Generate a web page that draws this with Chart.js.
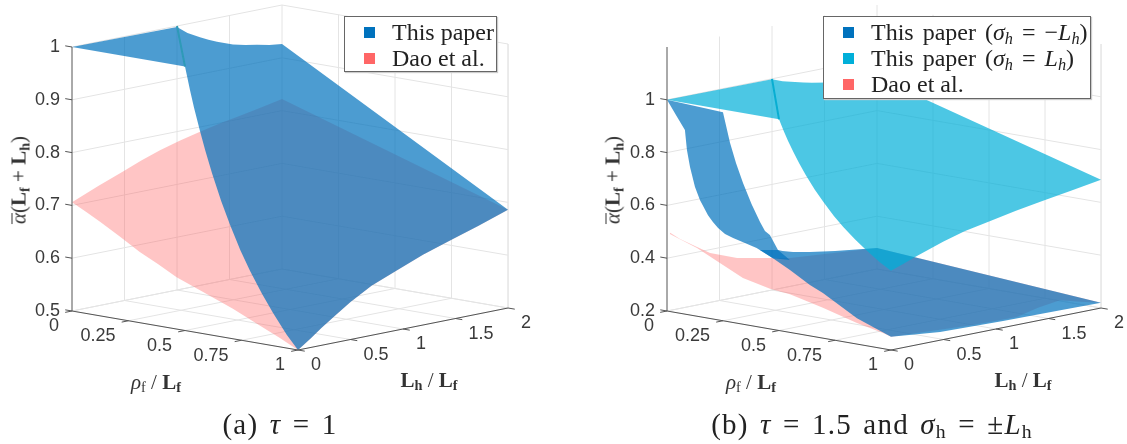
<!DOCTYPE html>
<html>
<head>
<meta charset="utf-8">
<script src="https://cdn.jsdelivr.net/npm/chart.js@4"></script>
<style>
  html, body { margin: 0; padding: 0; background: #fff; }
  #page { position: relative; width: 1127px; height: 444px; overflow: hidden; font-family: "Liberation Serif", serif; color: #222; }
  canvas { position: absolute; top: 0; }
  .tag { position: absolute; white-space: nowrap; transform: translate(-50%, -50%); }
  .tag b { font-weight: bold; }
  .tag sub { font-size: 0.68em; line-height: 0; vertical-align: -0.25em; }
  .axis { font-size: 21px; color: #333; }
  .alpha { transform: translate(-50%, -50%) rotate(-90deg); }
  .bar { display: inline-block; line-height: 0.62em; border-top: 1px solid #333; }
  .caption { font-size: 29px; letter-spacing: 1.2px; word-spacing: 3px; }
  .legend { position: absolute; top: 16px; background: #fff; border: 1px solid #666; box-sizing: border-box; box-shadow: 1px 1px 1px #ccc; }
  .legend div { position: absolute; white-space: nowrap; font-size: 24px; line-height: 26px; }
  .legend span { position: absolute; width: 11px; height: 11px; }
  .legend sub { font-size: 0.68em; line-height: 0; vertical-align: -0.25em; }
  .legend em { font-style: normal; word-spacing: 3px; }
</style>
</head>
<body>
<div id="page">
  <canvas id="left" width="564" height="444" style="left:0"></canvas>
  <canvas id="right" width="564" height="444" style="left:563px"></canvas>
</div>
<script>
// tick values
const rhoTicks = [0, 0.25, 0.5, 0.75, 1];
const rhoLabels = ['0', '0.25', '0.5', '0.75', '1'];
const hTicks = [0, 0.5, 1, 1.5, 2];
const hLabels = ['0', '0.5', '1', '1.5', '2'];
const alphaTicksA = [0.5, 0.6, 0.7, 0.8, 0.9, 1];
const alphaLabelsA = ['0.5', '0.6', '0.7', '0.8', '0.9', '1'];
const alphaTicksB = [0.2, 0.4, 0.6, 0.8, 1];
const alphaLabelsB = ['0.2', '0.4', '0.6', '0.8', '1'];

// This paper, tau=1 (same sheet is sigma_h=L_h in tau=1.5): edge rho=0
const paperBackH = [0, 1, 1.1, 1.219, 1.3, 1.381, 1.533, 1.65, 1.762, 1.88, 2];
const paperBackAlpha = [1, 0.998, 0.983, 0.97, 0.962, 0.955, 0.944, 0.938, 0.934, 0.929, 0.926];
// edge rho=1
const paperFrontH = [2, 1.72, 1.448, 1.19, 0.94, 0.7, 0.5, 0.36, 0.225, 0.12, 0];
const paperFrontAlpha = [0.686, 0.667, 0.65, 0.633, 0.613, 0.594, 0.571, 0.552, 0.533, 0.517, 0.5];
// edge Lh=0
const paperSideRho = [1, 0.95, 0.889, 0.84, 0.788, 0.745, 0.7, 0.66, 0.62, 0.59, 0.566, 0.54, 0.522, 0.5, 0];
const paperSideAlpha = [0.5, 0.525, 0.5625, 0.595, 0.634, 0.67, 0.714, 0.757, 0.806, 0.847, 0.883, 0.925, 0.957, 1, 1];
// the fold between (rho=0, Lh=1) and (rho=0.5, Lh=0)
const foldRho = [0, 0.5];
const foldH = [1, 0];
const foldAlpha = [1, 1];

// Dao et al., tau=1
const daoABackH = [0, 0.25, 0.486, 0.66, 0.838, 1.03, 1.219, 1.4, 1.6, 1.8, 2];
const daoABackAlpha = [0.706, 0.727, 0.745, 0.759, 0.771, 0.782, 0.791, 0.799, 0.806, 0.814, 0.822];
const daoASideRho = [1, 0.92, 0.82, 0.712, 0.59, 0.463, 0.38, 0.3, 0.21, 0.124, 0.06, 0];
const daoASideAlpha = [0.5, 0.517, 0.536, 0.557, 0.577, 0.598, 0.617, 0.634, 0.657, 0.678, 0.693, 0.706];

// This paper, tau=1.5, sigma_h=-L_h: ribbon edges
const ribbonBackH = [0, 0.533, 0.6, 0.657, 0.724, 0.805, 0.886, 0.933, 0.98, 1.057];
const ribbonBackAlpha = [1, 0.91, 0.79, 0.708, 0.627, 0.541, 0.467, 0.429, 0.41, 0.347];
const ribbonSideRho = [0.473, 0.4, 0.348, 0.295, 0.259, 0.228, 0.205, 0.183, 0.147, 0.125, 0.103, 0.089, 0.08, 0.04, 0];
const ribbonSideAlpha = [0.47, 0.498, 0.509, 0.52, 0.53, 0.548, 0.567, 0.59, 0.642, 0.688, 0.76, 0.823, 0.897, 0.948, 1];
const ribbonEndRho = [0.3];
const ribbonEndH = [0.53];
const ribbonEndAlpha = [0.395];
// sheet edges
const sheetBackH = [1.057, 1.1, 1.2, 1.36, 1.6, 1.8, 2];
const sheetBackAlpha = [0.347, 0.34, 0.328, 0.315, 0.3, 0.29, 0.28];
const sheetFrontH = [2, 1.6, 1.067, 0.467, 0];
const sheetFrontAlpha = [0.22, 0.222, 0.225, 0.231, 0.25];
const sheetSideRho = [1, 0.848, 0.696, 0.638, 0.549, 0.473, 0.415];
const sheetSideAlpha = [0.25, 0.298, 0.371, 0.393, 0.436, 0.47, 0.492];

// Dao et al., tau=1.5
const daoBBackH = [0.03, 0.124, 0.286, 0.41, 0.667, 0.952, 1.17, 2];
const daoBBackAlpha = [0.494, 0.463, 0.42, 0.387, 0.348, 0.325, 0.308, 0.28];
const daoBFrontH = [2, 1.8, 1.61, 1.4, 1.2, 0.78, 0];
const daoBFrontAlpha = [0.22, 0.24, 0.26, 0.249, 0.23, 0.233, 0.25];
const daoBSideRho = [1, 0.964, 0.848, 0.696, 0.549, 0.46, 0.339, 0.25, 0.134, 0.058, 0.013];
const daoBSideAlpha = [0.25, 0.259, 0.28, 0.315, 0.345, 0.352, 0.375, 0.411, 0.458, 0.48, 0.494];

// colours
const paperBlue = '#0072BD';
const paperCyan = '#00AFD9';
const daoRed = '#FF6666';
const surfaceBlue = 'rgba(0,114,189,0.7)';
const surfaceCyan = 'rgba(0,175,217,0.7)';
const surfaceRed = 'rgba(255,102,102,0.38)';
const gridColor = '#e4e4e4';
const axisColor = '#555555';

// edge helpers, every point is [rho, Lh, alpha]
const atRho = (rho, hs, alphas) => hs.map((h, i) => [rho, h, alphas[i]]);
const atH = (h, rhos, alphas) => rhos.map((r, i) => [r, h, alphas[i]]);

// turns 3d values into the flat x/y the chart scales work with
function projector(view) {
  return ([rho, h, alpha]) => ({
    x: view.x0 + rho * view.rhoX + h * view.hX,
    y: view.y0 + rho * view.rhoY + h * view.hY - (alpha - view.alphaMin) * view.alphaY
  });
}

function surface(points, color, order, project) {
  return {
    data: points.map(project), showLine: true, fill: 'shape', backgroundColor: color,
    borderWidth: 0, pointRadius: 0, order: order, clip: false
  };
}

function line(points, color, width, order, project) {
  return {
    data: points.map(project), showLine: true, fill: false, borderColor: color,
    borderWidth: width, pointRadius: 0, order: order, clip: false
  };
}

// walls, floor and the three dark axes
function frame(view, alphaTicks, project) {
  const lo = view.alphaMin, hi = view.alphaMax, out = [];
  const grid = pts => out.push(line(pts, gridColor, 1, 20, project));
  const axis = pts => out.push(line(pts, axisColor, 1, 1, project));
  hTicks.forEach(h => {
    grid([[0, h, lo], [1, h, lo]]);
    if (h > 0) grid([[0, h, lo], [0, h, hi]]);
    axis([[1, h, lo], [1.03, h, lo]]);
  });
  grid([[1, 2, lo], [1, 2, hi]]);
  rhoTicks.forEach(r => {
    grid([[r, 0, lo], [r, 2, lo]]);
    if (r > 0) grid([[r, 2, lo], [r, 2, hi]]);
    axis([[r, -0.065, lo], [r, 0, lo]]);
  });
  alphaTicks.forEach(a => {
    grid([[0, 0, a], [0, 2, a], [1, 2, a]]);
    axis([[-0.03, 0, a], [0, 0, a]]);
  });
  axis([[0, 0, lo], [0, 0, hi]]);
  axis([[0, 0, lo], [1, 0, lo]]);
  axis([[1, 0, lo], [1, 2, lo]]);
  return out;
}

// tick numbers sit next to their projected tick
const tickText = {
  id: 'tickText',
  afterDraw(chart, args, opts) {
    const ctx = chart.ctx, sx = chart.scales.x, sy = chart.scales.y, lo = opts.view.alphaMin;
    const put = (pt, text, dx, dy, align) => {
      const p = opts.project(pt);
      ctx.textAlign = align;
      ctx.fillText(text, sx.getPixelForValue(p.x) + dx, sy.getPixelForValue(p.y) + dy);
    };
    ctx.save();
    ctx.font = '18px "Liberation Sans"';
    ctx.fillStyle = '#3a3a3a';
    ctx.textBaseline = 'middle';
    opts.alphaTicks.forEach((a, i) => put([0, 0, a], opts.alphaLabels[i], -12, 0, 'right'));
    rhoTicks.forEach((r, i) => put([r, 0, lo], rhoLabels[i], -13, 15.5, 'right'));
    hTicks.forEach((h, i) => put([1, h, lo], hLabels[i], 13, 15.5, 'left'));
    ctx.restore();
  }
};

function draw3d(id, view, datasets, alphaTicks, alphaLabels) {
  const project = projector(view);
  const canvas = document.getElementById(id);
  new Chart(canvas, {
    type: 'scatter',
    data: { datasets: datasets(project).concat(frame(view, alphaTicks, project)) },
    options: {
      responsive: false,
      animation: false,
      layout: { padding: 0 },
      scales: {
        x: { type: 'linear', display: false, min: 0, max: canvas.width },
        y: { type: 'linear', display: false, min: 0, max: canvas.height, reverse: true }
      },
      plugins: {
        legend: { display: false },
        tooltip: { enabled: false },
        tickText: { view: view, project: project, alphaTicks: alphaTicks, alphaLabels: alphaLabels }
      }
    },
    plugins: [tickText]
  });
}

const viewA = { x0: 72, y0: 311, rhoX: 226, rhoY: 39, hX: 105, hY: -21, alphaMin: 0.5, alphaMax: 1, alphaY: 528 };
const viewB = { x0: 104, y0: 311, rhoX: 224, rhoY: 39, hX: 105, hY: -21, alphaMin: 0.2, alphaMax: 1.2, alphaY: 264 };

function paperSheet() {
  return [].concat(
    atRho(0, paperBackH, paperBackAlpha),
    atRho(1, paperFrontH, paperFrontAlpha),
    atH(0, paperSideRho, paperSideAlpha)
  );
}
const foldLine = foldRho.map((r, i) => [r, foldH[i], foldAlpha[i]]);

draw3d('left', viewA, project => [
  line(foldLine, '#2e9ab8', 2, 2, project),
  surface(paperSheet(), surfaceBlue, 4, project),
  surface([].concat(
    atRho(0, daoABackH, daoABackAlpha),
    atRho(1, paperFrontH, paperFrontAlpha),
    atH(0, daoASideRho, daoASideAlpha)
  ), surfaceRed, 5, project)
], alphaTicksA, alphaLabelsA);

draw3d('right', viewB, project => [
  line(foldLine, '#08aed2', 2, 2, project),
  surface(paperSheet(), surfaceCyan, 3, project),
  surface([].concat(
    atRho(0, ribbonBackH, ribbonBackAlpha),
    ribbonEndRho.map((r, i) => [r, ribbonEndH[i], ribbonEndAlpha[i]]),
    atH(0, ribbonSideRho, ribbonSideAlpha)
  ), surfaceBlue, 4, project),
  surface([].concat(
    atRho(0, sheetBackH, sheetBackAlpha),
    atRho(1, sheetFrontH, sheetFrontAlpha),
    atH(0, sheetSideRho, sheetSideAlpha)
  ), surfaceBlue, 4.5, project),
  surface([].concat(
    atRho(0, daoBBackH, daoBBackAlpha),
    atRho(1, daoBFrontH, daoBFrontAlpha),
    atH(0, daoBSideRho, daoBSideAlpha)
  ), surfaceRed, 5, project)
], alphaTicksB, alphaLabelsB);

/* text around the plots */
const page = document.getElementById('page');

function tag(html, x, y, cls) {
  const el = document.createElement('div');
  el.className = 'tag ' + cls;
  el.innerHTML = html;
  el.style.left = x + 'px';
  el.style.top = y + 'px';
  page.appendChild(el);
}

function legend(box, rows) {
  const el = document.createElement('div');
  el.className = 'legend';
  el.style.left = box.x + 'px';
  el.style.width = box.w + 'px';
  el.style.height = box.h + 'px';
  rows.forEach((row, i) => {
    const mark = document.createElement('span');
    mark.style.cssText = `left:${box.markX}px;top:${10 + i * 26}px;background:${row.color}`;
    const txt = document.createElement('div');
    txt.style.cssText = `left:${box.textX}px;top:${2 + i * 26}px`;
    txt.innerHTML = row.name;
    el.append(mark, txt);
  });
  page.appendChild(el);
}

const alphaTitle = '<i class="bar">α</i>(<b>L<sub>f</sub></b> + <b>L<sub>h</sub></b>)';
const rhoTitle = '<i>ρ</i><sub>f</sub> / <b>L<sub>f</sub></b>';
const hTitle = '<b>L<sub>h</sub></b> / <b>L<sub>f</sub></b>';

tag(alphaTitle, 19, 180, 'axis alpha');
tag(rhoTitle, 156, 382, 'axis');
tag(hTitle, 429, 380, 'axis');
tag(alphaTitle, 613, 180, 'axis alpha');
tag(rhoTitle, 751, 382, 'axis');
tag(hTitle, 1023, 380, 'axis');

tag('(a) <i>τ</i> = 1', 280, 424, 'caption');
tag('(b) <i>τ</i> = 1.5 and <i>σ</i><sub>h</sub> = ±<i>L</i><sub>h</sub>', 872, 424, 'caption');

legend({ x: 344, w: 153, h: 56, markX: 19, textX: 47 }, [
  { name: 'This paper', color: paperBlue },
  { name: 'Dao et al.', color: daoRed }
]);
legend({ x: 823, w: 268, h: 83, markX: 19, textX: 47 }, [
  { name: '<em>This paper (<i>σ<sub>h</sub></i> = −<i>L<sub>h</sub></i>)</em>', color: paperBlue },
  { name: '<em>This paper (<i>σ<sub>h</sub></i> = <i>L<sub>h</sub></i>)</em>', color: paperCyan },
  { name: 'Dao et al.', color: daoRed }
]);
</script>
</body>
</html>
